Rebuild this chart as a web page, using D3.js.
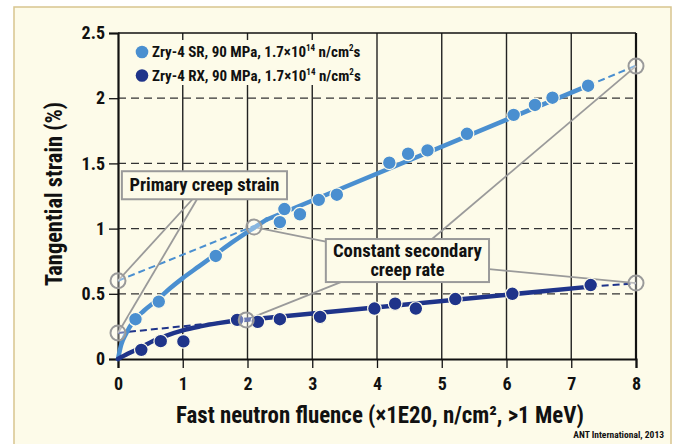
<!DOCTYPE html>
<html>
<head>
<meta charset="utf-8">
<script src="https://cdn.jsdelivr.net/npm/d3@7"></script>
<style>
  body { margin: 0; background: #fff; }
  text { font-family: "Liberation Sans Narrow", "Roboto Condensed", "DejaVu Sans Condensed", sans-serif; font-weight: bold; fill: #111; }
</style>
</head>
<body>
<svg id="chart" width="677" height="444"></svg>
<script>
var srFluence = [0.27, 0.63, 1.51, 2.50, 2.57, 2.81, 3.10, 3.38, 4.19, 4.48, 4.78, 5.39, 6.11, 6.44, 6.71, 7.26];
var srStrain  = [0.305, 0.44, 0.79, 1.05, 1.15, 1.11, 1.22, 1.26, 1.505, 1.574, 1.60, 1.727, 1.872, 1.948, 2.004, 2.096];
var rxFluence = [0.36, 0.66, 1.01, 1.84, 2.16, 2.50, 3.12, 3.96, 4.28, 4.60, 5.21, 6.09, 7.30];
var rxStrain  = [0.07, 0.137, 0.135, 0.30, 0.285, 0.305, 0.323, 0.387, 0.425, 0.387, 0.46, 0.50, 0.567];

// fitted curves as drawn: primary (curved) part, then straight secondary part
var srPrimary = [[0, 0], [0.05, 0.11], [0.12, 0.19], [0.24, 0.29], [0.4, 0.37], [0.6, 0.45], [0.8, 0.54], [1.0, 0.62], [1.25, 0.71], [1.5, 0.8], [1.75, 0.89], [2.05, 0.99], [2.3, 1.07]];
var srLinear  = [[2.3, 1.07], [7.26, 2.096]];
var rxPrimary = [[0, 0], [0.15, 0.04], [0.34, 0.085], [0.55, 0.14], [0.75, 0.18], [1.0, 0.22], [1.27, 0.25], [1.55, 0.275], [1.88, 0.297], [2.2, 0.31]];
var rxLinear  = [[2.2, 0.31], [7.3, 0.555]];
// thin dashed secondary-rate lines
var srSecondary = [[0, 0.6], [2.1, 1.02]];
var srSecondaryEnd = [[7.26, 2.096], [8, 2.25]];
var rxSecondary = [[0, 0.2], [1.95, 0.3]];
var rxSecondaryEnd = [[7.3, 0.555], [8, 0.58]];

// hollow annotation circles
var markCircles = [[0, 0.6], [0, 0.2], [2.1, 1.012], [1.98, 0.30], [8, 2.246], [8, 0.582]];

var xTicks = [0, 1, 2, 3, 4, 5, 6, 7, 8];
var yTicks = [0, 0.5, 1, 1.5, 2, 2.5];
var legendLabels = ["Zry-4 SR, 90 MPa, 1.7\u00d710", "Zry-4 RX, 90 MPa, 1.7\u00d710"];

var SR_COLOR = "#4a8fd0";
var RX_COLOR = "#1f348a";
var GREY = "#9a9a9a";
var BG = "#fdfbe9";

var svg = d3.select("#chart");

// frame
svg.append("rect")
    .attr("x", 14).attr("y", 7)
    .attr("width", 657).attr("height", 450)
    .attr("fill", BG)
    .attr("stroke", "#d8c58f")
    .attr("stroke-width", 1.5);

var xScale = d3.scaleLinear().domain([0, 8]).range([118, 636]);
var yScale = d3.scaleLinear().domain([0, 2.5]).range([359, 33]);

// grid
svg.append("g").selectAll("line")
    .data(xTicks.slice(1, 8))
    .enter().append("line")
    .attr("x1", function(d) { return xScale(d); })
    .attr("x2", function(d) { return xScale(d); })
    .attr("y1", yScale(2.5)).attr("y2", yScale(0))
    .attr("stroke", "#222").attr("stroke-width", 1.4);

svg.append("g").selectAll("line")
    .data([0.5, 1, 1.5, 2])
    .enter().append("line")
    .attr("x1", xScale(0)).attr("x2", xScale(8))
    .attr("y1", function(d) { return yScale(d); })
    .attr("y2", function(d) { return yScale(d); })
    .attr("stroke", "#333").attr("stroke-width", 1.3)
    .attr("stroke-dasharray", "8,5");

// legend panel hides the grid
svg.append("rect")
    .attr("x", xScale(0) + 1).attr("y", 40)
    .attr("width", 250).attr("height", 45)
    .attr("fill", BG);

// plot border (top, right)
svg.append("line")
    .attr("x1", xScale(0)).attr("x2", xScale(8))
    .attr("y1", yScale(2.5)).attr("y2", yScale(2.5))
    .attr("stroke", "#111").attr("stroke-width", 1.5);
svg.append("line")
    .attr("x1", xScale(8)).attr("x2", xScale(8))
    .attr("y1", yScale(2.5)).attr("y2", yScale(0))
    .attr("stroke", "#111").attr("stroke-width", 2.2);

// axes
var xAxis = d3.axisBottom(xScale).tickValues(xTicks).tickSize(9).tickPadding(9).tickFormat(d3.format("d"));
var yAxis = d3.axisLeft(yScale).tickValues(yTicks).tickSize(9).tickPadding(4).tickFormat(function(d) { return d; });

var gx = svg.append("g")
    .attr("transform", "translate(0," + yScale(0) + ")")
    .call(xAxis);
var gy = svg.append("g")
    .attr("transform", "translate(" + xScale(0) + ",0)")
    .call(yAxis);
[gx, gy].forEach(function(g) {
    g.select(".domain").attr("stroke", "#111").attr("stroke-width", 2.2);
    g.selectAll(".tick line").attr("stroke", "#111").attr("stroke-width", 1.3);
    g.selectAll(".tick text").attr("font-size", 18).attr("fill", "#111");
});

// axis titles
svg.append("text")
    .attr("x", 380).attr("y", 423)
    .attr("text-anchor", "middle")
    .attr("font-size", 24)
    .attr("textLength", 408)
    .attr("lengthAdjust", "spacingAndGlyphs")
    .text("Fast neutron fluence (\u00d71E20, n/cm\u00b2, >1 MeV)");
svg.append("text")
    .attr("transform", "translate(62," + 194 + ") rotate(-90)")
    .attr("text-anchor", "middle")
    .attr("font-size", 23)
    .attr("textLength", 184)
    .attr("lengthAdjust", "spacingAndGlyphs")
    .text("Tangential strain (%)");

var lineGen = d3.line()
    .x(function(d) { return xScale(d[0]); })
    .y(function(d) { return yScale(d[1]); });
var curveGen = d3.line()
    .curve(d3.curveMonotoneX)
    .x(function(d) { return xScale(d[0]); })
    .y(function(d) { return yScale(d[1]); });

// thin dashed secondary lines
[[srSecondary, SR_COLOR], [srSecondaryEnd, SR_COLOR], [rxSecondary, RX_COLOR], [rxSecondaryEnd, RX_COLOR]].forEach(function(s) {
    svg.append("path")
        .attr("d", lineGen(s[0]))
        .attr("fill", "none")
        .attr("stroke", s[1])
        .attr("stroke-width", 2)
        .attr("stroke-dasharray", "7,4");
});

// annotation leader lines (data coordinates)
var leaders = [
    [[1.15, 1.225], [0, 0.6]],
    [[1.22, 1.225], [0, 0.2]],
    [[3.21, 0.90], [2.1, 1.012]],
    [[4.85, 0.92], [8, 2.246]],
    [[5.73, 0.69], [8, 0.582]],
    [[3.47, 0.595], [1.98, 0.30]]
];
svg.append("g").selectAll("path")
    .data(leaders)
    .enter().append("path")
    .attr("d", function(d) { return lineGen(d); })
    .attr("fill", "none")
    .attr("stroke", GREY)
    .attr("stroke-width", 1.8);

// fitted curves
[[srPrimary, curveGen, SR_COLOR], [srLinear, lineGen, SR_COLOR],
 [rxPrimary, curveGen, RX_COLOR], [rxLinear, lineGen, RX_COLOR]].forEach(function(s) {
    svg.append("path")
        .attr("d", s[1](s[0]))
        .attr("fill", "none").attr("stroke", s[2]).attr("stroke-width", 4.5)
        .attr("stroke-linecap", "round");
});

// data points
function drawPoints(xs, ys, color) {
    svg.append("g").selectAll("circle")
        .data(xs)
        .enter().append("circle")
        .attr("cx", function(d) { return xScale(d); })
        .attr("cy", function(d, i) { return yScale(ys[i]); })
        .attr("r", 6.8)
        .attr("fill", color)
        .attr("stroke", BG)
        .attr("stroke-width", 1.2);
}
drawPoints(srFluence, srStrain, SR_COLOR);
drawPoints(rxFluence, rxStrain, RX_COLOR);

// hollow grey circles
svg.append("g").selectAll("circle")
    .data(markCircles)
    .enter().append("circle")
    .attr("cx", function(d) { return xScale(d[0]); })
    .attr("cy", function(d) { return yScale(d[1]); })
    .attr("r", 7.5)
    .attr("fill", "rgba(255,255,255,0.35)")
    .attr("stroke", GREY)
    .attr("stroke-width", 2);

// annotation boxes
function box(x0, y0, x1, y1, lines, baseY, widths) {
    svg.append("rect")
        .attr("x", xScale(x0)).attr("y", yScale(y0))
        .attr("width", xScale(x1) - xScale(x0))
        .attr("height", yScale(y1) - yScale(y0))
        .attr("fill", BG)
        .attr("stroke", GREY)
        .attr("stroke-width", 2);
    lines.forEach(function(t, i) {
        svg.append("text")
            .attr("x", (xScale(x0) + xScale(x1)) / 2)
            .attr("y", baseY + i * 19)
            .attr("text-anchor", "middle")
            .attr("font-size", 18)
            .attr("textLength", widths[i])
            .attr("lengthAdjust", "spacingAndGlyphs")
            .text(t);
    });
}
box(0.06, 1.44, 2.61, 1.225, ["Primary creep strain"], 191, [150]);
box(3.21, 0.92, 5.73, 0.59, ["Constant secondary", "creep rate"], 257, [149, 74]);

// legend
[SR_COLOR, RX_COLOR].forEach(function(c, i) {
    var y = 52 + i * 23.5;
    svg.append("circle")
        .attr("cx", 142).attr("cy", y).attr("r", 6.3).attr("fill", c);
    svg.append("text")
        .attr("x", 152).attr("y", y + 5)
        .attr("font-size", 15)
        .html(legendLabels[i] + '<tspan dy="-6" font-size="9">14</tspan><tspan dy="6"> n/cm</tspan><tspan dy="-6" font-size="9">2</tspan><tspan dy="6">s</tspan>');
});

// credit
svg.append("text")
    .attr("x", 664).attr("y", 438)
    .attr("text-anchor", "end")
    .attr("font-size", 9.5)
    .attr("font-weight", "normal")
    .text("ANT International, 2013");
</script>
</body>
</html>
